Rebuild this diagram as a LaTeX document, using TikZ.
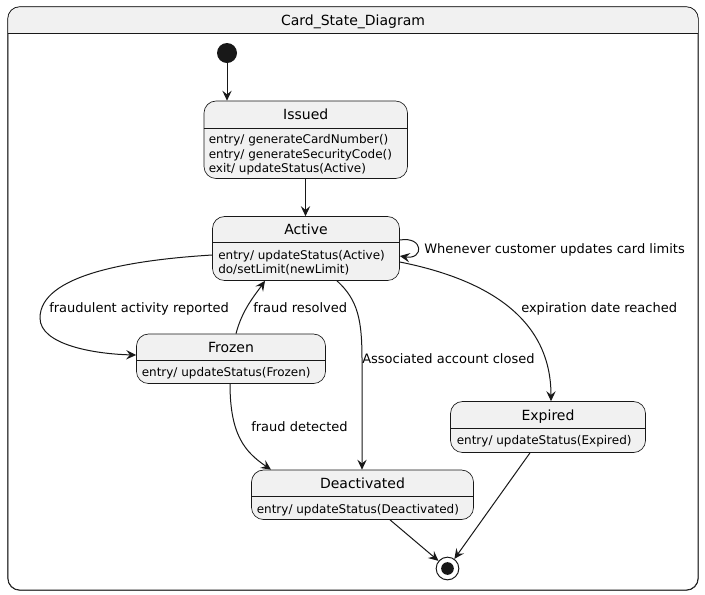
\documentclass[tikz,border=0pt]{standalone}
\usepackage{fontspec}
\setmainfont{DejaVu Sans}
\usetikzlibrary{arrows.meta,fit,calc}
\definecolor{ink}{HTML}{181818}
\definecolor{boxfill}{HTML}{F1F1F1}
\tikzset{
  statebox/.style={draw=ink, fill=boxfill, line width=0.5pt, rounded corners=9pt, inner sep=0pt},
  framebox/.style={draw=ink, fill=white, line width=0.5pt, rounded corners=9pt, inner sep=0pt},
  sep/.style={draw=ink, line width=0.5pt},
  sname/.style={font=\fontsize{10.5}{12.6}\selectfont, text=black, inner sep=0pt, anchor=base},
  sattr/.style={font=\fontsize{9}{10.8}\selectfont, text=black, inner sep=0pt, anchor=base west},
  elabel/.style={font=\fontsize{9.75}{11.7}\selectfont, text=black, inner sep=0pt, anchor=base west},
  arr/.style={draw=ink, line width=0.75pt, -{Stealth[length=7.5pt,width=7pt,inset=2.8pt]}},
}
\begin{document}
\begin{tikzpicture}[x=0.75pt,y=-0.75pt]
\useasboundingbox (0,0) rectangle (705,594);
% outer frame
\node[framebox, fit={(8,7) (698,590)}] (frame) {};
\begin{scope}
  \clip (0,0) rectangle (705,33);
  \fill[boxfill, rounded corners=9pt] (8,50) -- (8,7) -- (698,7) -- (698,50) -- cycle;
\end{scope}
\draw[framebox, fill=none] (frame.north west) rectangle (frame.south east);
\draw[sep] (frame.west |- 0,33) -- (frame.east |- 0,33);
\node[sname] (title) at (353,25) {Card\_State\_Diagram};

% initial / final
\node[circle, fill=ink, minimum size=15pt, inner sep=0pt] (init) at (227,53) {};
\node[circle, draw=ink, line width=0.75pt, fill=white, minimum size=17pt, inner sep=0pt] (final) at (447.5,568.5) {};
\node[circle, fill=ink, minimum size=9.5pt, inner sep=0pt] (finaldot) at (447.5,568.5) {};

% Issued
\node[statebox, fit={(204,101) (407.5,178.5)}] (issued) {};
\draw[sep] (issued.west |- 0,128.3) -- (issued.east |- 0,128.3);
\node[sname] (issuedname) at (305.75,119.5) {Issued};
\node[sattr] (issueda1) at (208.5,143.5) {entry/ generateCardNumber()};
\node[sattr] (issueda2) at (208.5,158) {entry/ generateSecurityCode()};
\node[sattr] (issueda3) at (208.5,172.5) {exit/ updateStatus(Active)};

% Active
\node[statebox, fit={(212.5,216.5) (399.5,280.5)}] (active) {};
\draw[sep] (active.west |- 0,242.5) -- (active.east |- 0,242.5);
\node[sname] (activename) at (306,234) {Active};
\node[sattr] (activea1) at (218,259.5) {entry/ updateStatus(Active)};
\node[sattr] (activea2) at (218,273) {do/setLimit(newLimit)};

% Frozen
\node[statebox, fit={(136.5,334) (325.5,383.5)}] (frozen) {};
\draw[sep] (frozen.west |- 0,360.5) -- (frozen.east |- 0,360.5);
\node[sname] (frozenname) at (231,352) {Frozen};
\node[sattr] (frozena1) at (141.5,376) {entry/ updateStatus(Frozen)};

% Deactivated
\node[statebox, fit={(251.5,470) (473.5,519.5)}] (deact) {};
\draw[sep] (deact.west |- 0,496.5) -- (deact.east |- 0,496.5);
\node[sname] (deactname) at (362.5,488.5) {Deactivated};
\node[sattr] (deacta1) at (256.5,513) {entry/ updateStatus(Deactivated)};

% Expired
\node[statebox, fit={(450.5,401.5) (645.5,452.5)}] (expired) {};
\draw[sep] (expired.west |- 0,428.5) -- (expired.east |- 0,428.5);
\node[sname] (expiredname) at (548,420) {Expired};
\node[sattr] (expireda1) at (456.5,444.5) {entry/ updateStatus(Expired)};

% transitions
\draw[arr] (init) -- (issued.north -| init);
\draw[arr] (issued.south -| 305.5,0) -- (active.north -| 305.5,0);
\draw[arr] (active.east |- 0,240) .. controls (424,236) and (424,260) .. (active.east |- 0,256);
\node[elabel] (lself) at (424,253) {Whenever customer updates card limits};

\draw[arr] (active.west |- 0,255) .. controls (130,260) and (40,275) .. (40,318)
  .. controls (40,345) and (95,354) .. (frozen.west |- 0,355);
\node[elabel] (lfraud) at (49,312.5) {fraudulent activity reported};

\draw[arr] (frozen.north -| 236,0) .. controls (242,310) and (255,295) .. (active.south -| 265,0);
\node[elabel] (lresolved) at (253,312.5) {fraud resolved};

\draw[arr] (active.south -| 337,0) .. controls (358,300) and (362,320) .. (362,360) -- (deact.north -| 362,0);
\node[elabel] (lclosed) at (362,363) {Associated account closed};

\draw[arr] (frozen.south -| 230,0) .. controls (230,435) and (245,452) .. (deact.north -| 271,0);
\node[elabel] (ldetected) at (251,431.5) {fraud detected};

\draw[arr] (active.east |- 0,262) .. controls (490,280) and (551,320) .. (expired.north -| 551,0);
\node[elabel] (lexpire) at (521,312.5) {expiration date reached};

\draw[arr] (deact.south -| 390,0) -- (final);
\draw[arr] (expired.south -| 530,0) -- (final);
\end{tikzpicture}
\end{document}
